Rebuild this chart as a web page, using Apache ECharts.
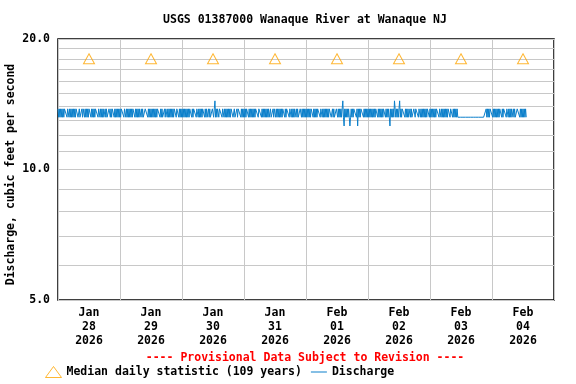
<!DOCTYPE html>
<html><head><meta charset="utf-8">
<script src="https://cdn.jsdelivr.net/npm/echarts@6/dist/echarts.min.js"></script>
<style>html,body{margin:0;padding:0;background:#fff}#c{width:576px;height:384px}</style>
</head><body><div id="c"></div>
<script>
const titleText = 'USGS 01387000 Wanaque River at Wanaque NJ';
const yAxisTitle = 'Discharge, cubic feet per second';
const provisionalNote = '---- Provisional Data Subject to Revision ----';
const medianName = 'Median daily statistic (109 years)';
const dischargeName = 'Discharge';
const dayLabels = ['Jan\n28\n2026','Jan\n29\n2026','Jan\n30\n2026','Jan\n31\n2026','Feb\n01\n2026','Feb\n02\n2026','Feb\n03\n2026','Feb\n04\n2026'];
const yLabelValues = [5, 10, 20];
const yGridValues = [5,6,7,8,9,10,11,12,13,14,15,16,17,18,19,20];
const medianValues = [18,18,18,18,18,18,18,18];

// 15-minute discharge values, one array per day (starting 00:00)
const jan28 = [
13.8,13.2,13.8,13.2,13.8,13.2,13.8,13.2,
13.8,13.2,13.8,13.8,13.8,13.8,13.2,13.8,
13.8,13.2,13.8,13.2,13.8,13.2,13.8,13.2,
13.8,13.2,13.8,13.2,13.8,13.8,13.8,13.2,
13.2,13.8,13.2,13.2,13.2,13.8,13.2,13.8,
13.8,13.2,13.8,13.2,13.8,13.2,13.8,13.2,
13.8,13.8,13.8,13.2,13.8,13.2,13.8,13.2,
13.8,13.2,13.8,13.8,13.8,13.8,13.2,13.8,
13.8,13.2,13.8,13.2,13.8,13.2,13.8,13.2,
13.2,13.8,13.2,13.8,13.2,13.2,13.2,13.8,
13.8,13.2,13.8,13.2,13.8,13.8,13.8,13.2,
13.8,13.2,13.8,13.2,13.8,13.2,13.8,13.2];
const jan29 = [
13.8,13.2,13.8,13.8,13.8,13.8,13.2,13.8,
13.8,13.2,13.8,13.2,13.8,13.2,13.8,13.2,
13.8,13.2,13.8,13.2,13.8,13.8,13.8,13.2,
13.8,13.2,13.8,13.2,13.8,13.2,13.8,13.2,
13.2,13.8,13.2,13.8,13.2,13.2,13.2,13.8,
13.8,13.8,13.8,13.2,13.8,13.2,13.8,13.2,
13.8,13.2,13.8,13.2,13.8,13.2,13.8,13.2,
13.8,13.2,13.8,13.8,13.8,13.8,13.2,13.8,
13.2,13.8,13.2,13.2,13.2,13.8,13.2,13.8,
13.8,13.2,13.8,13.2,13.8,13.2,13.8,13.2,
13.8,13.2,13.8,13.2,13.8,13.8,13.8,13.2,
13.8,13.8,13.8,13.2,13.8,13.2,13.8,13.2];
const jan30 = [
13.8,13.2,13.8,13.2,13.8,13.2,13.8,13.2,
13.8,13.2,13.8,13.2,13.8,13.8,13.8,13.2,
13.8,13.2,13.8,13.8,13.8,13.8,13.2,13.8,
13.8,13.2,13.8,13.2,13.8,13.2,13.8,13.2,
13.8,13.8,13.8,13.2,13.8,13.2,13.8,13.2,
13.2,13.8,13.2,13.8,13.2,13.2,13.2,13.8,
13.8,13.2,13.8,14.4,13.2,13.8,13.2,13.8,
13.8,13.2,13.8,13.8,13.8,13.8,13.2,13.8,
13.8,13.2,13.8,13.2,13.8,13.2,13.8,13.2,
13.8,13.2,13.8,13.2,13.8,13.8,13.8,13.2,
13.2,13.8,13.2,13.2,13.2,13.8,13.2,13.8,
13.8,13.8,13.8,13.2,13.8,13.2,13.8,13.2];
const jan31 = [
13.8,13.2,13.8,13.2,13.8,13.8,13.8,13.2,
13.8,13.2,13.8,13.2,13.8,13.2,13.8,13.2,
13.8,13.2,13.8,13.8,13.8,13.8,13.2,13.8,
13.8,13.8,13.8,13.2,13.8,13.2,13.8,13.2,
13.8,13.2,13.8,13.2,13.8,13.2,13.8,13.2,
13.2,13.8,13.2,13.2,13.2,13.8,13.2,13.8,
13.8,13.2,13.8,13.2,13.8,13.2,13.8,13.2,
13.8,13.2,13.8,13.2,13.8,13.8,13.8,13.2,
13.8,13.2,13.8,13.8,13.8,13.8,13.2,13.8,
13.8,13.2,13.8,13.2,13.8,13.2,13.8,13.2,
13.2,13.8,13.2,13.8,13.2,13.2,13.2,13.8,
13.8,13.2,13.8,13.2,13.8,13.2,13.8,13.2];
const feb01 = [
13.8,13.2,13.8,13.2,13.8,13.2,13.8,13.2,
13.8,13.8,13.8,13.2,13.8,13.2,13.8,13.2,
13.8,13.2,13.8,13.8,13.8,13.8,13.2,13.8,
13.8,13.2,13.8,13.2,13.8,13.2,13.8,13.2,
13.8,13.2,13.8,13.2,13.8,13.8,13.8,13.2,
13.2,13.8,13.2,13.8,13.2,13.2,13.2,13.8,
13.8,13.2,13.8,13.2,13.8,13.2,13.8,13.2,
13.8,14.4,13.2,12.6,13.8,13.2,13.8,13.2,
13.8,13.2,13.8,13.2,12.6,13.2,13.8,13.2,
13.8,13.2,13.8,13.8,13.8,13.8,13.2,13.8,
12.6,13.8,13.2,13.8,13.2,13.8,13.8,13.8,
13.8,13.2,13.8,13.2,13.8,13.2,13.8,13.2];
const feb02 = [
13.8,13.2,13.8,13.2,13.8,13.2,13.8,13.2,
13.8,13.2,13.8,13.2,13.8,13.8,13.8,13.2,
13.8,13.2,13.8,13.2,13.8,13.2,13.8,13.2,
13.8,13.8,13.8,13.2,13.8,13.2,13.8,13.2,
13.8,13.2,12.6,13.8,13.2,13.8,13.2,13.8,
13.2,14.4,13.8,13.2,13.8,13.2,13.8,13.2,
13.8,14.4,13.2,13.8,13.2,13.8,13.8,13.8,
13.8,13.2,13.8,13.2,13.8,13.2,13.8,13.2,
13.2,13.8,13.2,13.8,13.2,13.2,13.2,13.8,
13.8,13.2,13.8,13.8,13.8,13.8,13.2,13.8,
13.8,13.2,13.8,13.2,13.8,13.2,13.8,13.2,
13.8,13.2,13.8,13.2,13.8,13.8,13.8,13.2];
const feb03 = [
13.8,13.2,13.8,13.2,13.8,13.2,13.8,13.2,
13.8,13.2,13.8,13.8,13.8,13.8,13.2,13.8,
13.8,13.2,13.8,13.2,13.8,13.2,13.8,13.2,
13.8,13.2,13.8,13.2,13.8,13.8,13.8,13.2,
13.8,13.8,13.8,13.2,13.8,13.2,13.8,13.2,
13.8,13.2,13.8,13.2,
13.2,13.2,13.2,13.2,13.2,13.2,13.2,13.2,
13.2,13.2,13.2,13.2,13.2,13.2,13.2,13.2,
13.2,13.2,13.2,13.2,13.2,13.2,13.2,13.2,
13.2,13.2,13.2,13.2,13.2,13.2,13.2,13.2,
13.2,13.2,13.2,13.2,13.2,13.2,13.2,13.2,
13.2,13.2,13.2,
13.8,13.2,13.8,13.2,13.8,13.2,13.8,13.8,13.8];
const feb04 = [
13.8,13.2,13.8,13.2,13.8,13.2,13.8,13.2,
13.8,13.2,13.8,13.2,13.8,13.8,13.8,13.2,
13.8,13.2,13.8,13.8,13.8,13.8,13.2,13.8,
13.8,13.2,13.8,13.2,13.8,13.2,13.8,13.2,
13.2,13.8,13.2,13.8,13.2,13.2,13.2,13.8,
13.8,13.8,13.8,13.2,13.8,13.2,13.8,13.2,
13.8,13.2,13.8,13.2,13.8,13.2];

const dischargeValues = [].concat(jan28, jan29, jan30, jan31, feb01, feb02, feb03, feb04);
const startMs = Date.UTC(2026, 0, 28);
const dayMs = 86400000;
const stepMs = 900000;

const dischargeData = dischargeValues.map((v, i) => [startMs + i * stepMs, v]);
const medianData = medianValues.map((v, i) => [startMs + (i + 0.5) * dayMs, v]);
const noonValues = dayLabels.map((_, i) => startMs + (i + 0.5) * dayMs);

const FONT = 'DejaVu Sans Mono';
const baseText = {fontFamily: FONT, fontWeight: 'bold', fontSize: 11.5, color: '#000'};
const gridLine = {show: true, lineStyle: {color: '#c8c8c8', width: 1}};

const chart = echarts.init(document.getElementById('c'), null, {renderer: 'canvas'});
chart.setOption({
  animation: false,
  backgroundColor: '#fff',
  title: [
    {text: titleText, left: 305, top: 14, textAlign: 'center', padding: 0, textStyle: baseText},
    {text: provisionalNote, left: 305, top: 352, textAlign: 'center', padding: 0, textStyle: Object.assign({}, baseText, {color: '#ff0000'})}
  ],
  legend: {
    left: 45, top: 366, itemWidth: 16, itemHeight: 11, itemGap: 9, padding: 0,
    textStyle: baseText,
    data: [
      {name: medianName, icon: 'triangle', itemStyle: {color: 'rgba(0,0,0,0)', borderColor: '#ffa500', borderWidth: 1}},
      {name: dischargeName, icon: 'path://M0,0 H16 V1 H0 Z', itemStyle: {color: '#0a7fcb', borderWidth: 0}}
    ]
  },
  grid: {left: 58, top: 39, width: 496, height: 261, outerBoundsMode: 'none', containLabel: false,
         show: true, borderColor: '#000', borderWidth: 1.5, backgroundColor: 'transparent'},
  xAxis: {
    type: 'value', min: startMs, max: startMs + 8 * dayMs, interval: dayMs,
    axisLine: {show: false}, axisTick: {show: false},
    splitLine: gridLine,
    axisLabel: Object.assign({}, baseText, {
      customValues: noonValues, lineHeight: 14, margin: 6, align: 'center',
      formatter: v => dayLabels[Math.round((v - startMs) / dayMs - 0.5)]
    })
  },
  yAxis: {
    type: 'log', logBase: 10, min: 5, max: 20,
    name: yAxisTitle, nameLocation: 'middle', nameGap: 41, nameMoveOverlap: false,
    nameTextStyle: Object.assign({}, baseText, {padding: [0, 10, 0, 0]}),
    axisLine: {show: false},
    axisTick: {show: false, customValues: yGridValues},
    splitLine: gridLine,
    axisLabel: Object.assign({}, baseText, {customValues: yLabelValues, margin: 8, formatter: v => Number(v).toFixed(1)})
  },
  series: [
    {name: medianName, type: 'scatter', data: medianData, symbol: 'triangle', symbolSize: [11, 10],
     itemStyle: {color: 'rgba(0,0,0,0)', borderColor: '#ffa500', borderWidth: 1}, z: 4},
    {name: dischargeName, type: 'line', data: dischargeData, showSymbol: false, symbol: 'none',
     lineStyle: {color: '#0a7fcb', width: 1}, itemStyle: {color: '#0a7fcb'}, z: 3}
  ]
});
</script></body></html>
